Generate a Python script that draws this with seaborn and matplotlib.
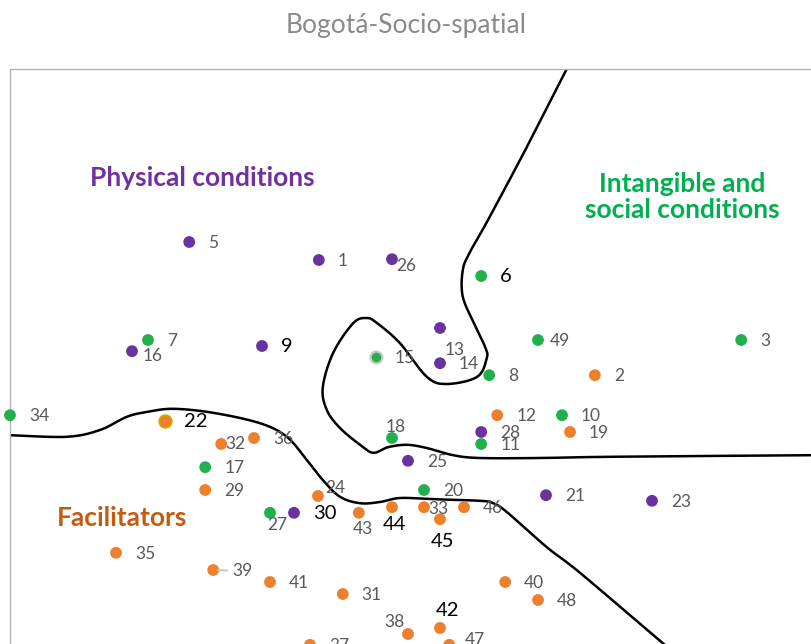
import numpy as np
import pandas as pd
import matplotlib
matplotlib.use("Agg")
import matplotlib.pyplot as plt
import seaborn as sns

# ==============================
# Data
# ==============================

labels = ["5", "1", "26", "16", "9", "13", "14", "28", "25", "21", "23", "30",
          "6", "7", "49", "3", "15", "8", "34", "10", "18", "11", "17", "20", "27",
          "2", "22", "12", "19", "32", "36", "29", "24", "43", "44", "33", "46",
          "45", "35", "39", "41", "31", "40", "48", "42", "38", "37", "47"]

x_vals = [22.4, 38.6, 47.75, 15.25, 31.5, 53.75, 53.75, 58.9, 49.75, 67.0, 80.25, 35.5,
          58.9, 17.25, 66.0, 91.4, 45.75, 59.9, 0.0, 69.0, 47.75, 58.9, 24.4, 51.75, 32.5,
          73.1, 19.4, 60.9, 70.0, 26.4, 30.5, 24.4, 38.5, 43.6, 47.75, 51.75, 56.75,
          53.75, 13.25, 25.4, 32.5, 41.6, 61.9, 66.0, 53.75, 49.75, 37.5, 54.9]

y_vals = [50.25, 48.0, 48.1, 36.6, 37.25, 39.5, 35.1, 26.5, 22.9, 18.6, 17.9, 16.4,
          46.0, 38.0, 38.0, 38.0, 35.9, 33.6, 28.6, 28.6, 25.75, 25.0, 22.1, 19.25, 16.4,
          33.6, 27.9, 28.6, 26.5, 25.0, 25.75, 19.25, 18.5, 16.4, 17.1, 17.1, 17.1,
          15.6, 11.4, 9.25, 7.75, 6.25, 7.75, 5.5, 2.0, 1.25, -0.1, -0.1]

groups = ["Physical"] * 12 + ["Intangible"] * 13 + ["Facilitators"] * 23

# boundary curves drawn by hand on the original
curve_a_x = [69.6, 64.75, 59.75, 57.5, 56.6, 56.6, 58.1, 59.4, 59.6, 58.4, 54.6, 52.1,
             48.75, 45.9, 44.6, 42.9, 40.4, 39.1, 39.6, 41.25, 43.75, 45.4, 47.25, 49.6,
             52.1, 55.4, 58.75, 66.25, 75.0, 100.25, 103.75]
curve_a_y = [71.9, 62.4, 53.0, 49.0, 46.75, 43.4, 39.9, 37.1, 35.75, 33.4, 32.5, 33.4,
             37.6, 40.1, 40.75, 40.1, 36.4, 32.1, 29.25, 27.0, 24.9, 23.9, 24.6, 24.9,
             24.5, 23.6, 23.25, 23.25, 23.4, 23.6, 23.6]

curve_b_x = [0.0, 7.1, 11.25, 14.6, 17.1, 20.4, 25.4, 31.25, 34.6, 37.1, 39.1, 41.25,
             43.75, 46.25, 48.75, 52.9, 58.75, 60.4, 62.1, 67.1, 71.25, 81.6, 84.4]
curve_b_y = [26.1, 25.9, 26.75, 28.4, 29.0, 29.4, 28.9, 27.6, 25.9, 23.0, 20.5, 18.4,
             17.6, 17.75, 18.25, 18.1, 17.9, 17.6, 16.5, 12.1, 8.9, 0.1, -2.25]

# ==============================
# Styles
# ==============================

palette = {"Physical": "#6a329f", "Intangible": "#21b04b", "Facilitators": "#ee7f2d"}
big_labels = {"6", "9", "22", "30", "44", "45", "42"}

# label offsets in pixels (dx right, dy down); default is (19, 1)
label_offsets = {
    "26": (4, 7), "16": (11, 5), "13": (5, 22), "18": (-6, -11), "27": (-3, 12),
    "32": (4, 0), "24": (7, -8), "43": (-6, 16), "44": (-9, 17), "33": (4, 2),
    "45": (-9, 22), "42": (-4, -17), "38": (-24, -12), "47": (16, -5), "49": (12, 1),
}

sns.set_style("white")
plt.rcParams["font.family"] = ["Lato", "DejaVu Sans"]

df = pd.DataFrame({"label": labels, "x": x_vals, "y": y_vals, "group": groups})


def smooth(xs, ys, n=20):
    # catmull-rom through the hand-read points of the curve
    p = np.column_stack([xs, ys])
    p = np.vstack([p[0], p, p[-1]])
    out = []
    t = np.linspace(0, 1, n, endpoint=False)[:, None]
    for i in range(1, len(p) - 2):
        p0, p1, p2, p3 = p[i - 1], p[i], p[i + 1], p[i + 2]
        seg = 0.5 * ((2 * p1) + (-p0 + p2) * t + (2 * p0 - 5 * p1 + 4 * p2 - p3) * t ** 2
                     + (-p0 + 3 * p1 - 3 * p2 + p3) * t ** 3)
        out.append(seg)
    out.append(p[-2][None, :])
    out = np.vstack(out)
    return out[:, 0], out[:, 1]


fig = plt.figure(figsize=(8.12, 6.44), dpi=100)
ax = fig.add_axes([10 / 812, -30 / 644, 822 / 812, 605 / 644])

for cx, cy in [(curve_a_x, curve_a_y), (curve_b_x, curve_b_y)]:
    sx, sy = smooth(cx, cy)
    ax.plot(sx, sy, color="black", lw=1.8, solid_capstyle="round", zorder=2)

sns.scatterplot(data=df, x="x", y="y", hue="group", palette=palette, s=72,
                edgecolor="none", legend=False, ax=ax, zorder=3, clip_on=False)

# the two points with an outline in the original
d22 = df[df["label"] == "22"]
ax.scatter(d22["x"], d22["y"], s=80, color=palette["Facilitators"],
           edgecolors="#d9a400", linewidths=1.4, zorder=4)
d15 = df[df["label"] == "15"]
ax.scatter(d15["x"], d15["y"], s=72, color=palette["Intangible"],
           edgecolors="#c8c8c8", linewidths=1.6, zorder=4)

for _, r in df.iterrows():
    dx, dy = label_offsets.get(r["label"], (19, 1))
    big = r["label"] in big_labels
    kw = {}
    if r["label"] == "39":
        kw["arrowprops"] = dict(arrowstyle="-", color="#bfbfbf", lw=1.2,
                                shrinkA=1, shrinkB=3)
    ax.annotate(r["label"], (r["x"], r["y"]), xytext=(dx, -dy),
                textcoords="offset pixels", ha="left", va="center",
                fontsize=14.5 if big else 12.5,
                color="black" if big else "#595959", zorder=5,
                annotation_clip=False, **kw)

ax.text(24.0, 58.25, "Physical conditions", color="#7030a0", fontsize=19,
        fontweight="bold", ha="center", va="center")
ax.text(84.0, 55.9, "Intangible and\nsocial conditions", color="#00b050", fontsize=19,
        fontweight="bold", ha="center", va="center", linespacing=1.1)
ax.text(14.0, 15.75, "Facilitators", color="#c55a11", fontsize=19,
        fontweight="bold", ha="center", va="center")

ax.set_xlim(0, 102.75)
ax.set_ylim(-3.75, 71.875)
ax.set_xticks([])
ax.set_yticks([])
ax.set_xlabel("")
ax.set_ylabel("")
for side in ["right", "bottom"]:
    ax.spines[side].set_visible(False)
for side in ["left", "top"]:
    ax.spines[side].set_color("#b3b3b3")
    ax.spines[side].set_linewidth(1.0)

fig.text(0.5, 1 - 26 / 644, "Bogotá-Socio-spatial", ha="center", va="center",
         fontsize=19, color="#8a8a8a", fontweight="normal")

fig.savefig("out.png", dpi=100)
